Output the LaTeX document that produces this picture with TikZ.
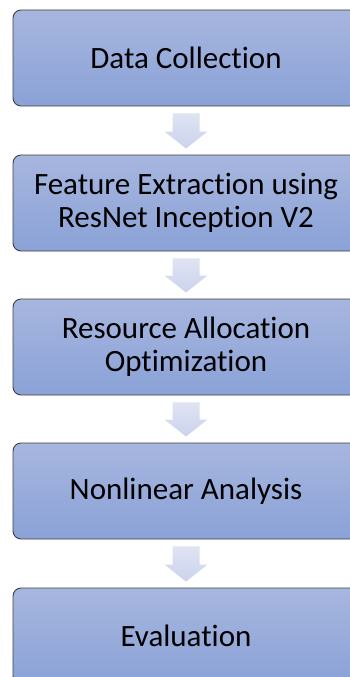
\documentclass[tikz,border=0pt]{standalone}
\usepackage{fontspec}
\setmainfont[Ligatures=NoCommon]{Carlito}
\usetikzlibrary{calc}
\definecolor{boxtop}{HTML}{A7B6DF}
\definecolor{boxbot}{HTML}{8AA2D7}
\definecolor{boxline}{HTML}{3F3F3F}
\definecolor{arrtop}{HTML}{DFE4F3}
\definecolor{arrbot}{HTML}{CBD3EC}
\tikzset{
  stagebox/.style={draw=boxline, line width=0.9pt, rounded corners=8pt,
    top color=boxtop, bottom color=boxbot, minimum width=346pt, minimum height=96pt,
    inner sep=0pt, align=center, font=\fontsize{31}{33}\selectfont, text=black},
  blockarr/.style={top color=arrtop, bottom color=arrbot, draw=none}
}
\newcommand{\flowarrow}[2]{%
  \path[blockarr]
    ($(#1.south)+(-13.5pt,-7pt)$) -- ($(#1.south)+(13.5pt,-7pt)$)
    -- ($(#2.north)+(13.5pt,23pt)$) -- ($(#2.north)+(21.5pt,23pt)$)
    -- ($(#2.north)+(0,6pt)$) -- ($(#2.north)+(-21.5pt,23pt)$)
    -- ($(#2.north)+(-13.5pt,23pt)$) -- cycle;}
\begin{document}
\begin{tikzpicture}[x=1pt,y=1pt]
\useasboundingbox (0,0) rectangle (350,-677);
\node[stagebox] (b1) at (186,-58) {Data Collection};
\node[stagebox] (b2) at (186,-203) {Feature Extraction using\\ResNet Inception V2};
\node[stagebox] (b3) at (186,-347) {Resource Allocation\\Optimization};
\node[stagebox] (b4) at (186,-491) {Nonlinear Analysis};
\node[stagebox] (b5) at (186,-636) {Evaluation};
\flowarrow{b1}{b2}
\flowarrow{b2}{b3}
\flowarrow{b3}{b4}
\flowarrow{b4}{b5}
\end{tikzpicture}
\end{document}
